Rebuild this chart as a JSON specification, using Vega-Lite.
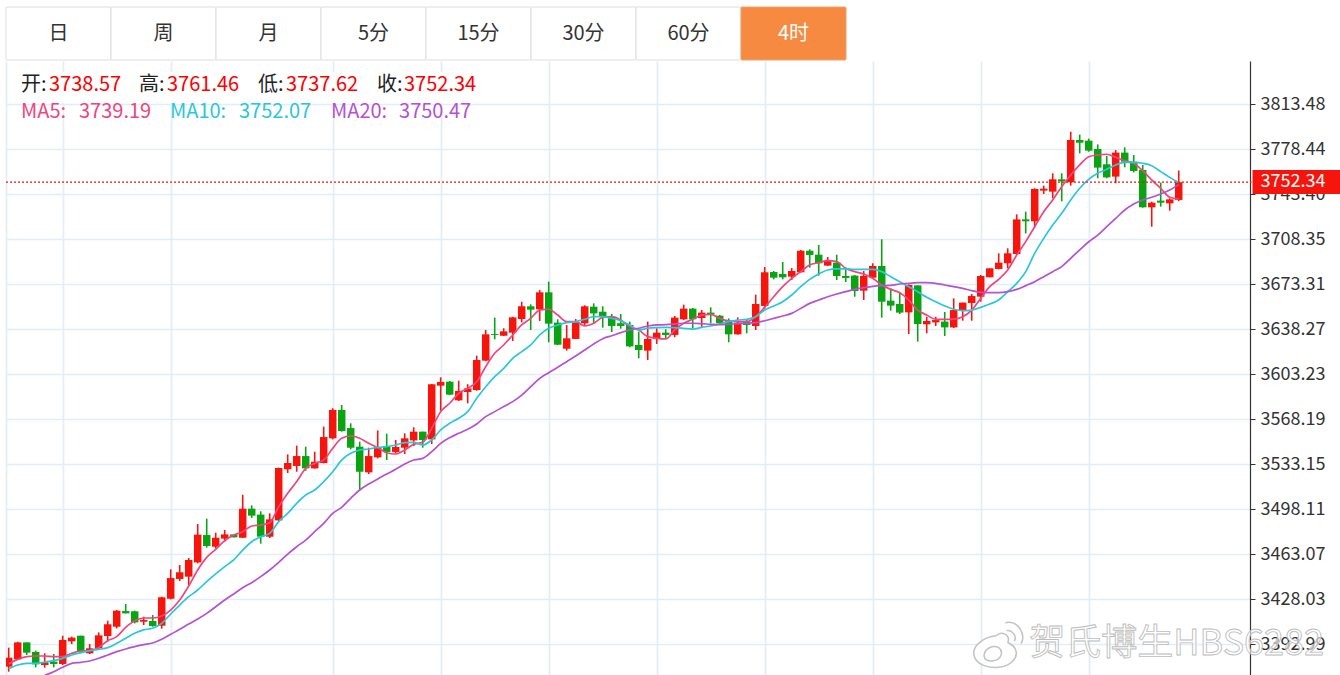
{"$schema":"https://vega.github.io/schema/vega-lite/v6.json","padding":{"left":5,"top":6,"right":0,"bottom":0},"background":"white","spacing":0,"config":{"view":{"stroke":null},"font":"Noto Sans CJK SC","concat":{"spacing":0}},
"datasets":{"k":[
{"i":0,"o":3375.1,"h":3389.9,"l":3371.2,"c":3382.1,"m5":3377.2,"m10":3373.5,"m20":null},
{"i":1,"o":3380.8,"h":3394.5,"l":3380.3,"c":3394.0,"m5":3380.8,"m10":3376.4,"m20":null},
{"i":2,"o":3394.0,"h":3394.0,"l":3384.2,"c":3386.0,"m5":3382.9,"m10":3377.7,"m20":null},
{"i":3,"o":3386.5,"h":3387.6,"l":3374.6,"c":3376.9,"m5":3383.4,"m10":3377.7,"m20":null},
{"i":4,"o":3376.4,"h":3385.5,"l":3374.3,"c":3378.5,"m5":3383.4,"m10":3378.7,"m20":3368.3},
{"i":5,"o":3379.0,"h":3385.0,"l":3374.6,"c":3377.2,"m5":3382.9,"m10":3379.8,"m20":3371.2},
{"i":6,"o":3377.2,"h":3399.2,"l":3376.4,"c":3395.9,"m5":3382.9,"m10":3381.6,"m20":3374.6},
{"i":7,"o":3394.8,"h":3398.5,"l":3392.7,"c":3397.7,"m5":3385.5,"m10":3384.2,"m20":3377.7},
{"i":8,"o":3399.2,"h":3399.2,"l":3385.5,"c":3386.8,"m5":3387.3,"m10":3386.0,"m20":3378.5},
{"i":9,"o":3385.5,"h":3392.7,"l":3385.0,"c":3389.4,"m5":3387.6,"m10":3387.6,"m20":3379.5},
{"i":10,"o":3389.4,"h":3401.8,"l":3388.6,"c":3399.5,"m5":3390.1,"m10":3388.6,"m20":3381.6},
{"i":11,"o":3399.0,"h":3410.9,"l":3394.6,"c":3408.1,"m5":3395.3,"m10":3389.9,"m20":3384.2},
{"i":12,"o":3406.2,"h":3419.2,"l":3404.9,"c":3418.7,"m5":3398.5,"m10":3393.3,"m20":3386.8},
{"i":13,"o":3418.4,"h":3423.9,"l":3416.6,"c":3416.6,"m5":3405.7,"m10":3397.2,"m20":3388.9},
{"i":14,"o":3418.2,"h":3418.7,"l":3408.8,"c":3409.6,"m5":3410.9,"m10":3401.1,"m20":3390.7},
{"i":15,"o":3410.1,"h":3414.0,"l":3407.5,"c":3411.4,"m5":3413.0,"m10":3403.7,"m20":3392.2},
{"i":16,"o":3410.7,"h":3415.3,"l":3406.2,"c":3406.8,"m5":3413.0,"m10":3405.0,"m20":3393.5},
{"i":17,"o":3407.0,"h":3429.6,"l":3404.7,"c":3429.1,"m5":3414.6,"m10":3408.8,"m20":3396.4},
{"i":18,"o":3428.0,"h":3450.9,"l":3427.5,"c":3444.1,"m5":3419.2,"m10":3416.1,"m20":3400.3},
{"i":19,"o":3443.4,"h":3454.3,"l":3441.8,"c":3448.6,"m5":3427.0,"m10":3423.1,"m20":3404.2},
{"i":20,"o":3445.2,"h":3459.7,"l":3438.7,"c":3458.2,"m5":3437.9,"m10":3429.6,"m20":3408.3},
{"i":21,"o":3456.3,"h":3486.2,"l":3455.6,"c":3477.9,"m5":3450.4,"m10":3434.8,"m20":3412.2},
{"i":22,"o":3477.6,"h":3490.3,"l":3467.8,"c":3469.1,"m5":3460.2,"m10":3441.3,"m20":3416.6},
{"i":23,"o":3468.5,"h":3479.4,"l":3467.2,"c":3475.5,"m5":3466.5,"m10":3447.3,"m20":3421.8},
{"i":24,"o":3474.8,"h":3481.5,"l":3472.4,"c":3478.1,"m5":3473.2,"m10":3453.0,"m20":3427.0},
{"i":25,"o":3478.1,"h":3478.1,"l":3475.8,"c":3475.8,"m5":3477.6,"m10":3458.2,"m20":3431.7},
{"i":26,"o":3475.5,"h":3509.0,"l":3475.3,"c":3498.1,"m5":3480.2,"m10":3465.9,"m20":3436.6},
{"i":27,"o":3498.1,"h":3500.7,"l":3490.9,"c":3492.7,"m5":3484.6,"m10":3472.4,"m20":3440.5},
{"i":28,"o":3493.5,"h":3496.1,"l":3470.9,"c":3476.3,"m5":3485.4,"m10":3476.3,"m20":3445.2},
{"i":29,"o":3476.3,"h":3494.5,"l":3475.3,"c":3489.8,"m5":3487.2,"m10":3478.9,"m20":3450.4},
{"i":30,"o":3489.0,"h":3530.1,"l":3488.5,"c":3529.8,"m5":3499.7,"m10":3488.0,"m20":3456.3},
{"i":31,"o":3528.8,"h":3540.4,"l":3525.9,"c":3533.7,"m5":3510.1,"m10":3494.5,"m20":3462.8},
{"i":32,"o":3531.4,"h":3547.2,"l":3526.9,"c":3539.1,"m5":3519.2,"m10":3502.3,"m20":3468.5},
{"i":33,"o":3539.1,"h":3546.4,"l":3527.7,"c":3529.5,"m5":3529.5,"m10":3508.8,"m20":3473.7},
{"i":34,"o":3529.5,"h":3542.5,"l":3529.3,"c":3534.7,"m5":3533.4,"m10":3512.7,"m20":3480.2},
{"i":35,"o":3533.7,"h":3562.0,"l":3533.4,"c":3553.9,"m5":3536.0,"m10":3519.2,"m20":3486.7},
{"i":36,"o":3552.9,"h":3576.3,"l":3552.1,"c":3575.0,"m5":3545.1,"m10":3526.9,"m20":3494.5},
{"i":37,"o":3575.0,"h":3578.9,"l":3558.1,"c":3558.6,"m5":3552.9,"m10":3536.0,"m20":3499.2},
{"i":38,"o":3560.9,"h":3564.6,"l":3544.3,"c":3545.6,"m5":3554.7,"m10":3541.2,"m20":3506.2},
{"i":39,"o":3546.4,"h":3550.3,"l":3512.1,"c":3526.9,"m5":3552.9,"m10":3543.8,"m20":3512.7},
{"i":40,"o":3526.4,"h":3545.6,"l":3525.1,"c":3539.1,"m5":3549.0,"m10":3544.6,"m20":3517.3},
{"i":41,"o":3538.1,"h":3559.1,"l":3537.3,"c":3546.2,"m5":3545.6,"m10":3545.9,"m20":3521.2},
{"i":42,"o":3546.4,"h":3556.5,"l":3536.0,"c":3542.3,"m5":3541.7,"m10":3546.4,"m20":3525.1},
{"i":43,"o":3542.3,"h":3551.6,"l":3541.2,"c":3546.2,"m5":3540.7,"m10":3547.7,"m20":3528.8},
{"i":44,"o":3545.6,"h":3556.8,"l":3540.7,"c":3552.9,"m5":3543.8,"m10":3549.5,"m20":3532.9},
{"i":45,"o":3551.3,"h":3561.5,"l":3546.9,"c":3558.1,"m5":3548.2,"m10":3549.8,"m20":3536.0},
{"i":46,"o":3558.1,"h":3558.1,"l":3545.6,"c":3551.6,"m5":3549.8,"m10":3547.7,"m20":3537.3},
{"i":47,"o":3552.1,"h":3595.2,"l":3548.5,"c":3595.0,"m5":3560.7,"m10":3551.6,"m20":3542.5},
{"i":48,"o":3593.9,"h":3600.4,"l":3574.4,"c":3596.8,"m5":3573.7,"m10":3559.4,"m20":3549.0},
{"i":49,"o":3597.0,"h":3597.5,"l":3586.6,"c":3586.9,"m5":3580.2,"m10":3564.6,"m20":3553.4},
{"i":50,"o":3582.5,"h":3597.8,"l":3582.0,"c":3589.8,"m5":3587.9,"m10":3568.5,"m20":3556.8},
{"i":51,"o":3589.0,"h":3595.0,"l":3580.2,"c":3591.8,"m5":3591.8,"m10":3573.7,"m20":3559.9},
{"i":52,"o":3590.5,"h":3617.3,"l":3590.0,"c":3613.9,"m5":3597.0,"m10":3584.1,"m20":3564.1},
{"i":53,"o":3613.4,"h":3637.3,"l":3612.9,"c":3633.9,"m5":3608.7,"m10":3593.1,"m20":3569.8},
{"i":54,"o":3634.1,"h":3646.9,"l":3630.0,"c":3633.4,"m5":3619.1,"m10":3600.9,"m20":3573.7},
{"i":55,"o":3632.8,"h":3638.6,"l":3632.6,"c":3636.2,"m5":3625.6,"m10":3607.4,"m20":3577.6},
{"i":56,"o":3635.2,"h":3647.6,"l":3628.7,"c":3647.1,"m5":3633.4,"m10":3615.2,"m20":3581.5},
{"i":57,"o":3645.8,"h":3659.3,"l":3643.2,"c":3655.7,"m5":3641.2,"m10":3620.4,"m20":3586.6},
{"i":58,"o":3655.7,"h":3657.2,"l":3637.3,"c":3653.1,"m5":3646.3,"m10":3625.6,"m20":3593.1},
{"i":59,"o":3653.4,"h":3668.4,"l":3644.3,"c":3666.6,"m5":3652.8,"m10":3633.4,"m20":3599.6},
{"i":60,"o":3666.6,"h":3674.9,"l":3627.7,"c":3642.2,"m5":3653.4,"m10":3638.6,"m20":3604.0},
{"i":61,"o":3643.0,"h":3645.6,"l":3625.6,"c":3625.8,"m5":3648.9,"m10":3641.2,"m20":3608.2},
{"i":62,"o":3622.7,"h":3641.2,"l":3621.2,"c":3630.8,"m5":3643.8,"m10":3643.0,"m20":3612.6},
{"i":63,"o":3630.3,"h":3645.8,"l":3630.3,"c":3643.2,"m5":3643.8,"m10":3643.8,"m20":3617.0},
{"i":64,"o":3642.5,"h":3656.5,"l":3641.2,"c":3655.7,"m5":3640.4,"m10":3645.6,"m20":3621.7},
{"i":65,"o":3655.4,"h":3658.0,"l":3642.5,"c":3650.2,"m5":3642.5,"m10":3647.6,"m20":3626.4},
{"i":66,"o":3651.5,"h":3655.7,"l":3639.1,"c":3647.6,"m5":3647.1,"m10":3647.6,"m20":3630.5},
{"i":67,"o":3647.6,"h":3649.7,"l":3635.7,"c":3640.4,"m5":3647.6,"m10":3646.3,"m20":3632.8},
{"i":68,"o":3642.5,"h":3649.7,"l":3638.3,"c":3640.4,"m5":3645.0,"m10":3644.5,"m20":3635.2},
{"i":69,"o":3641.2,"h":3643.8,"l":3623.8,"c":3624.5,"m5":3639.9,"m10":3641.2,"m20":3637.3},
{"i":70,"o":3625.6,"h":3636.0,"l":3615.2,"c":3621.7,"m5":3637.3,"m10":3637.3,"m20":3638.6},
{"i":71,"o":3621.2,"h":3643.8,"l":3613.9,"c":3630.3,"m5":3632.1,"m10":3638.6,"m20":3640.4},
{"i":72,"o":3630.3,"h":3638.6,"l":3626.4,"c":3635.2,"m5":3630.8,"m10":3639.1,"m20":3641.2},
{"i":73,"o":3635.2,"h":3637.8,"l":3630.8,"c":3633.4,"m5":3630.3,"m10":3639.3,"m20":3641.4},
{"i":74,"o":3633.4,"h":3648.2,"l":3631.6,"c":3646.9,"m5":3637.3,"m10":3639.1,"m20":3641.9},
{"i":75,"o":3645.6,"h":3657.0,"l":3645.0,"c":3653.9,"m5":3642.5,"m10":3638.6,"m20":3642.5},
{"i":76,"o":3653.9,"h":3654.4,"l":3638.6,"c":3645.6,"m5":3645.6,"m10":3638.0,"m20":3642.5},
{"i":77,"o":3646.6,"h":3652.8,"l":3639.3,"c":3650.8,"m5":3648.9,"m10":3639.3,"m20":3642.2},
{"i":78,"o":3650.8,"h":3654.9,"l":3642.5,"c":3649.5,"m5":3649.5,"m10":3640.4,"m20":3641.7},
{"i":79,"o":3648.4,"h":3649.0,"l":3641.9,"c":3642.5,"m5":3646.3,"m10":3641.9,"m20":3641.4},
{"i":80,"o":3644.3,"h":3646.3,"l":3627.7,"c":3633.9,"m5":3644.3,"m10":3643.8,"m20":3641.7},
{"i":81,"o":3633.9,"h":3647.1,"l":3633.6,"c":3643.0,"m5":3643.8,"m10":3645.0,"m20":3642.2},
{"i":82,"o":3643.8,"h":3645.8,"l":3634.7,"c":3641.2,"m5":3643.8,"m10":3645.6,"m20":3642.5},
{"i":83,"o":3640.4,"h":3664.8,"l":3637.3,"c":3657.5,"m5":3647.6,"m10":3647.6,"m20":3643.0},
{"i":84,"o":3656.0,"h":3686.3,"l":3654.1,"c":3682.2,"m5":3654.9,"m10":3652.8,"m20":3644.5},
{"i":85,"o":3682.4,"h":3683.2,"l":3676.7,"c":3678.0,"m5":3663.2,"m10":3656.0,"m20":3646.3},
{"i":86,"o":3680.9,"h":3690.2,"l":3676.7,"c":3678.3,"m5":3671.0,"m10":3659.3,"m20":3648.2},
{"i":87,"o":3678.8,"h":3685.5,"l":3676.2,"c":3683.2,"m5":3677.5,"m10":3664.5,"m20":3650.2},
{"i":88,"o":3682.2,"h":3699.6,"l":3681.9,"c":3699.0,"m5":3682.7,"m10":3671.0,"m20":3654.1},
{"i":89,"o":3699.0,"h":3700.1,"l":3685.8,"c":3695.7,"m5":3687.9,"m10":3676.7,"m20":3658.0},
{"i":90,"o":3695.9,"h":3703.5,"l":3679.6,"c":3689.2,"m5":3689.7,"m10":3680.9,"m20":3660.6},
{"i":91,"o":3687.4,"h":3694.1,"l":3687.1,"c":3691.3,"m5":3691.3,"m10":3684.0,"m20":3663.2},
{"i":92,"o":3689.7,"h":3695.9,"l":3676.2,"c":3679.3,"m5":3690.5,"m10":3684.8,"m20":3665.3},
{"i":93,"o":3679.3,"h":3685.8,"l":3674.6,"c":3677.8,"m5":3685.3,"m10":3684.8,"m20":3667.1},
{"i":94,"o":3679.6,"h":3680.1,"l":3663.2,"c":3667.6,"m5":3682.7,"m10":3684.5,"m20":3668.9},
{"i":95,"o":3667.9,"h":3683.2,"l":3660.6,"c":3679.3,"m5":3680.9,"m10":3684.5,"m20":3670.2},
{"i":96,"o":3678.0,"h":3689.2,"l":3677.5,"c":3687.1,"m5":3677.5,"m10":3684.5,"m20":3671.3},
{"i":97,"o":3687.1,"h":3707.9,"l":3646.9,"c":3659.3,"m5":3672.3,"m10":3682.7,"m20":3671.8},
{"i":98,"o":3660.1,"h":3669.7,"l":3652.3,"c":3656.2,"m5":3668.9,"m10":3678.8,"m20":3672.0},
{"i":99,"o":3657.5,"h":3666.3,"l":3649.7,"c":3650.8,"m5":3666.3,"m10":3674.9,"m20":3673.1},
{"i":100,"o":3651.0,"h":3672.8,"l":3634.1,"c":3672.3,"m5":3660.6,"m10":3671.0,"m20":3673.6},
{"i":101,"o":3672.0,"h":3672.0,"l":3628.2,"c":3641.9,"m5":3652.8,"m10":3667.1,"m20":3674.1},
{"i":102,"o":3641.7,"h":3647.6,"l":3634.7,"c":3644.3,"m5":3648.9,"m10":3662.7,"m20":3674.1},
{"i":103,"o":3643.2,"h":3647.6,"l":3640.4,"c":3645.0,"m5":3645.6,"m10":3659.3,"m20":3673.6},
{"i":104,"o":3643.8,"h":3651.3,"l":3632.6,"c":3639.3,"m5":3645.6,"m10":3656.0,"m20":3672.3},
{"i":105,"o":3639.3,"h":3661.9,"l":3638.8,"c":3652.8,"m5":3645.8,"m10":3653.4,"m20":3671.0},
{"i":106,"o":3652.3,"h":3658.6,"l":3644.5,"c":3658.6,"m5":3647.6,"m10":3652.3,"m20":3669.7},
{"i":107,"o":3658.3,"h":3665.3,"l":3644.5,"c":3663.7,"m5":3652.8,"m10":3652.8,"m20":3667.9},
{"i":108,"o":3663.2,"h":3680.1,"l":3659.3,"c":3679.3,"m5":3661.9,"m10":3654.9,"m20":3666.6},
{"i":109,"o":3678.3,"h":3685.3,"l":3678.3,"c":3685.3,"m5":3671.0,"m10":3657.5,"m20":3666.3},
{"i":110,"o":3684.8,"h":3697.0,"l":3684.5,"c":3689.7,"m5":3676.7,"m10":3660.6,"m20":3666.3},
{"i":111,"o":3689.2,"h":3700.9,"l":3685.3,"c":3697.0,"m5":3684.0,"m10":3667.1,"m20":3667.1},
{"i":112,"o":3696.4,"h":3727.3,"l":3696.2,"c":3723.4,"m5":3695.7,"m10":3673.6,"m20":3668.9},
{"i":113,"o":3723.4,"h":3729.4,"l":3712.5,"c":3721.9,"m5":3706.1,"m10":3682.7,"m20":3671.8},
{"i":114,"o":3721.9,"h":3747.6,"l":3717.2,"c":3747.1,"m5":3717.7,"m10":3697.0,"m20":3674.9},
{"i":115,"o":3745.8,"h":3749.7,"l":3743.2,"c":3747.3,"m5":3729.4,"m10":3708.6,"m20":3678.8},
{"i":116,"o":3745.0,"h":3759.3,"l":3739.8,"c":3754.6,"m5":3738.5,"m10":3719.0,"m20":3682.7},
{"i":117,"o":3754.6,"h":3759.3,"l":3737.5,"c":3753.0,"m5":3748.9,"m10":3728.1,"m20":3686.6},
{"i":118,"o":3752.3,"h":3791.7,"l":3749.7,"c":3785.2,"m5":3758.0,"m10":3738.5,"m20":3693.1},
{"i":119,"o":3785.2,"h":3789.4,"l":3774.8,"c":3783.1,"m5":3765.8,"m10":3747.6,"m20":3699.6},
{"i":120,"o":3784.7,"h":3786.3,"l":3776.1,"c":3776.9,"m5":3772.2,"m10":3754.6,"m20":3706.0},
{"i":121,"o":3778.2,"h":3781.8,"l":3755.4,"c":3763.7,"m5":3773.5,"m10":3759.3,"m20":3711.2},
{"i":122,"o":3766.3,"h":3772.8,"l":3755.4,"c":3756.1,"m5":3774.1,"m10":3762.4,"m20":3717.7},
{"i":123,"o":3756.7,"h":3777.4,"l":3751.5,"c":3775.4,"m5":3771.7,"m10":3765.8,"m20":3724.2},
{"i":124,"o":3775.4,"h":3779.5,"l":3763.9,"c":3768.3,"m5":3769.1,"m10":3767.8,"m20":3730.7},
{"i":125,"o":3768.3,"h":3773.5,"l":3760.0,"c":3761.1,"m5":3767.1,"m10":3767.8,"m20":3735.4},
{"i":126,"o":3761.9,"h":3765.8,"l":3732.5,"c":3732.8,"m5":3761.3,"m10":3767.1,"m20":3738.5},
{"i":127,"o":3732.8,"h":3737.2,"l":3717.7,"c":3736.4,"m5":3754.1,"m10":3765.2,"m20":3740.6},
{"i":128,"o":3738.0,"h":3752.0,"l":3733.3,"c":3736.4,"m5":3747.6,"m10":3760.6,"m20":3743.2},
{"i":129,"o":3735.9,"h":3739.8,"l":3730.2,"c":3739.0,"m5":3740.6,"m10":3756.1,"m20":3746.3},
{"i":130,"o":3738.57,"h":3761.46,"l":3737.62,"c":3752.34,"m5":3739.19,"m10":3752.07,"m20":3750.47}
]},
"vconcat":[
{"width":840,"height":53,"data":{"values":[{"tab":"日","on":0},{"tab":"周","on":0},{"tab":"月","on":0},{"tab":"5分","on":0},{"tab":"15分","on":0},{"tab":"30分","on":0},{"tab":"60分","on":0},{"tab":"4时","on":1}]},
"encoding":{"x":{"field":"tab","type":"nominal","sort":null,"scale":{"paddingInner":0,"paddingOuter":0},"axis":null}},
"layer":[
{"mark":{"type":"rect","strokeWidth":1,"cornerRadius":1},"encoding":{"fill":{"condition":{"test":"datum.on===1","value":"#f58a40"},"value":"#ffffff"},"stroke":{"condition":{"test":"datum.on===1","value":"#f0a070"},"value":"#dddddd"}}},
{"mark":{"type":"text","fontSize":20,"baseline":"middle"},"encoding":{"text":{"field":"tab"},"color":{"condition":{"test":"datum.on===1","value":"#ffffff"},"value":"#333333"}}}
]},
{"width":1244,"height":614,
"layer":[
{"data":{"name":"k"},"mark":{"type":"rule","strokeWidth":1.6,"clip":true},"encoding":{"x":{"field":"i","type":"quantitative","title":null,"scale":{"domain":[-0.3,137.92],"nice":false,"zero":false,"padding":0},"axis":{"values":[-0.25,6,18,36,48,60,72,84,96,108,120],"grid":true,"gridColor":"#e3edf5","gridWidth":1.7,"labels":false,"ticks":false,"domain":false,"title":null}},"y":{"field":"l","type":"quantitative","title":null,"scale":{"domain":[3368.61,3846.73],"nice":false,"zero":false},"axis":{"orient":"right","title":null,"values":[3813.48,3778.44,3743.40,3708.35,3673.31,3638.27,3603.23,3568.19,3533.15,3498.11,3463.07,3428.03,3392.99],"format":".2f","grid":true,"gridColor":"#e3edf5","gridWidth":1.7,"domainColor":"#333333","domainWidth":1.2,"tickColor":"#333333","tickSize":5,"labelPadding":5,"labelFontSize":18,"labelColor":"#333333","labelOffset":1}},"y2":{"field":"h"},"color":{"condition":{"test":"datum.c>=datum.o","value":"#f5150c"},"value":"#0aa312"}}},
{"data":{"name":"k"},"mark":{"type":"bar","size":7.5,"clip":true},"encoding":{"x":{"field":"i","type":"quantitative"},"y":{"field":"o","type":"quantitative"},"y2":{"field":"c"},"color":{"condition":{"test":"datum.c>=datum.o","value":"#f5150c"},"value":"#0aa312"}}},
{"data":{"name":"k"},"mark":{"type":"line","interpolate":"monotone","color":"#f0457f","strokeWidth":1.7,"clip":true},"encoding":{"x":{"field":"i","type":"quantitative"},"y":{"field":"m5","type":"quantitative"}}},
{"data":{"name":"k"},"mark":{"type":"line","interpolate":"monotone","color":"#2bc6dd","strokeWidth":1.7,"clip":true},"encoding":{"x":{"field":"i","type":"quantitative"},"y":{"field":"m10","type":"quantitative"}}},
{"data":{"name":"k"},"mark":{"type":"line","interpolate":"monotone","color":"#b452d2","strokeWidth":1.7,"clip":true},"encoding":{"x":{"field":"i","type":"quantitative"},"y":{"field":"m20","type":"quantitative"}}},
{"data":{"values":[{"last":3752.34}]},"mark":{"type":"rule","color":"#f5150c","strokeDash":[2,2],"strokeWidth":1.2},"encoding":{"x":{"datum":-0.3,"type":"quantitative"},"x2":{"datum":138.1},"y":{"field":"last","type":"quantitative"}}},
{"data":{"values":[{"a":1}]},"mark":{"type":"rect","color":"#ffffff","opacity":0.92},"encoding":{"x":{"datum":1.26,"type":"quantitative"},"x2":{"datum":52.3},"y":{"datum":3838.2,"type":"quantitative"},"y2":{"datum":3814.0}}},
{"data":{"values":[{"t":"开:"}]},"mark":{"type":"text","align":"left","fontSize":20,"color":"#222222"},"encoding":{"text":{"field":"t"},"x":{"datum":1.37,"type":"quantitative"},"y":{"datum":3828,"type":"quantitative"}}},
{"data":{"values":[{"t":"3738.57"}]},"mark":{"type":"text","align":"left","fontSize":20,"color":"#ff0000"},"encoding":{"text":{"field":"t"},"x":{"datum":4.48,"type":"quantitative"},"y":{"datum":3828,"type":"quantitative"}}},
{"data":{"values":[{"t":"高:"}]},"mark":{"type":"text","align":"left","fontSize":20,"color":"#222222"},"encoding":{"text":{"field":"t"},"x":{"datum":14.48,"type":"quantitative"},"y":{"datum":3828,"type":"quantitative"}}},
{"data":{"values":[{"t":"3761.46"}]},"mark":{"type":"text","align":"left","fontSize":20,"color":"#ff0000"},"encoding":{"text":{"field":"t"},"x":{"datum":17.59,"type":"quantitative"},"y":{"datum":3828,"type":"quantitative"}}},
{"data":{"values":[{"t":"低:"}]},"mark":{"type":"text","align":"left","fontSize":20,"color":"#222222"},"encoding":{"text":{"field":"t"},"x":{"datum":27.7,"type":"quantitative"},"y":{"datum":3828,"type":"quantitative"}}},
{"data":{"values":[{"t":"3737.62"}]},"mark":{"type":"text","align":"left","fontSize":20,"color":"#ff0000"},"encoding":{"text":{"field":"t"},"x":{"datum":30.81,"type":"quantitative"},"y":{"datum":3828,"type":"quantitative"}}},
{"data":{"values":[{"t":"收:"}]},"mark":{"type":"text","align":"left","fontSize":20,"color":"#222222"},"encoding":{"text":{"field":"t"},"x":{"datum":40.92,"type":"quantitative"},"y":{"datum":3828,"type":"quantitative"}}},
{"data":{"values":[{"t":"3752.34"}]},"mark":{"type":"text","align":"left","fontSize":20,"color":"#ff0000"},"encoding":{"text":{"field":"t"},"x":{"datum":43.92,"type":"quantitative"},"y":{"datum":3828,"type":"quantitative"}}},
{"data":{"values":[{"t":"MA5:"}]},"mark":{"type":"text","align":"left","fontSize":20,"color":"#f0457f"},"encoding":{"text":{"field":"t"},"x":{"datum":1.37,"type":"quantitative"},"y":{"datum":3807,"type":"quantitative"}}},
{"data":{"values":[{"t":"3739.19"}]},"mark":{"type":"text","align":"left","fontSize":20,"color":"#f0457f"},"encoding":{"text":{"field":"t"},"x":{"datum":7.81,"type":"quantitative"},"y":{"datum":3807,"type":"quantitative"}}},
{"data":{"values":[{"t":"MA10:"}]},"mark":{"type":"text","align":"left","fontSize":20,"color":"#2bc6dd"},"encoding":{"text":{"field":"t"},"x":{"datum":17.92,"type":"quantitative"},"y":{"datum":3807,"type":"quantitative"}}},
{"data":{"values":[{"t":"3752.07"}]},"mark":{"type":"text","align":"left","fontSize":20,"color":"#2bc6dd"},"encoding":{"text":{"field":"t"},"x":{"datum":25.59,"type":"quantitative"},"y":{"datum":3807,"type":"quantitative"}}},
{"data":{"values":[{"t":"MA20:"}]},"mark":{"type":"text","align":"left","fontSize":20,"color":"#b452d2"},"encoding":{"text":{"field":"t"},"x":{"datum":35.81,"type":"quantitative"},"y":{"datum":3807,"type":"quantitative"}}},
{"data":{"values":[{"t":"3750.47"}]},"mark":{"type":"text","align":"left","fontSize":20,"color":"#b452d2"},"encoding":{"text":{"field":"t"},"x":{"datum":43.37,"type":"quantitative"},"y":{"datum":3807,"type":"quantitative"}}},
{"data":{"values":[{"a":1}]},"mark":{"type":"rect","color":"#f5150c"},"encoding":{"x":{"datum":138.2,"type":"quantitative"},"x2":{"datum":148.1},"y":{"datum":3761.9,"type":"quantitative"},"y2":{"datum":3743.2}}},
{"data":{"values":[{"t":"3752.34"}]},"mark":{"type":"text","align":"left","fontSize":18,"color":"#ffffff"},"encoding":{"text":{"field":"t"},"x":{"datum":139.1,"type":"quantitative"},"y":{"datum":3752.34,"type":"quantitative"}}},
{"data":{"values":[{"t":"贺氏博生HBS6282"}]},"mark":{"type":"text","align":"left","fontSize":36,"color":"#ffffff","fillOpacity":0.6,"stroke":"#bdbdbd","strokeWidth":0.9},"encoding":{"text":{"field":"t"},"x":{"datum":113.4,"type":"quantitative"},"y":{"datum":3392.9,"type":"quantitative"}}},
{"data":{"values":[{"a":1}]},"mark":{"type":"point","filled":true,"shape":"M-0.1,-0.25C-0.6,-0.2,-1,0.15,-0.95,0.45C-0.9,0.85,-0.4,1,0,0.95C0.45,0.9,0.75,0.6,0.65,0.3C0.6,0.1,0.4,0.05,0.35,0C0.45,-0.3,0.1,-0.45,-0.1,-0.25ZM0.25,-0.75C0.75,-0.85,1.05,-0.3,0.85,0.05M0.3,-0.45C0.5,-0.5,0.7,-0.25,0.6,-0.05M-0.55,0.45C-0.5,0.2,-0.2,0.1,0,0.2C0.2,0.35,0.1,0.65,-0.2,0.7C-0.4,0.75,-0.6,0.65,-0.55,0.45Z","size":2750,"color":"#ffffff","stroke":"#bdbdbd","strokeWidth":1.5,"opacity":0.9},"encoding":{"x":{"datum":110,"type":"quantitative"},"y":{"datum":3394,"type":"quantitative"}}}
]}
]}
